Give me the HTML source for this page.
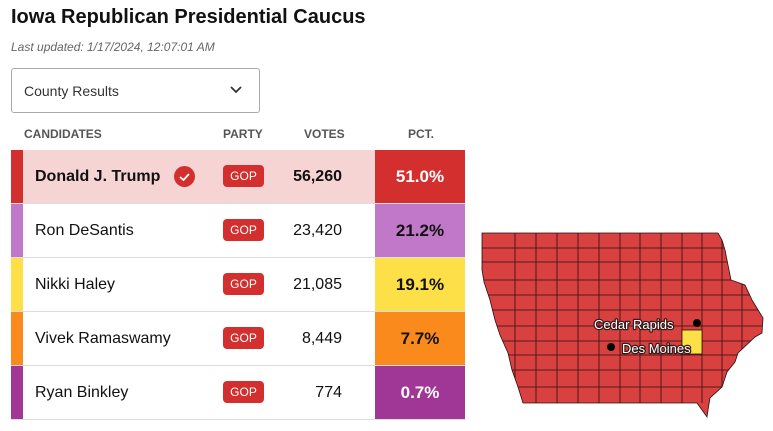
<!DOCTYPE html>
<html><head><style>
body{margin:0;width:773px;height:431px;background:#fff;font-family:"Liberation Sans",Arial,sans-serif;position:relative;overflow:hidden}
.a{position:absolute}
.row{position:absolute;left:11px;width:454px;height:53px;border-bottom:1px solid #ddd}
.bar{position:absolute;left:0;top:0;width:12px;height:100%}
.nm{position:absolute;left:24px;top:0;line-height:53px;font-size:16px;color:#111}
.gop{position:absolute;left:212px;top:15px;width:41px;height:22px;background:#d32f2f;color:#fff;border-radius:4px;font-size:12px;text-align:center;line-height:22px}
.vt{position:absolute;right:123px;top:0;line-height:53px;font-size:16px;color:#111}
.pc{position:absolute;left:364px;top:0;width:90px;height:100%;line-height:53px;text-align:center;font-size:17px;font-weight:bold}
.hd{position:absolute;top:127px;font-size:12px;color:#555;font-weight:bold}
</style></head><body>
<div class="a" style="left:11px;top:6px;font-size:20px;font-weight:bold;color:#111">Iowa Republican Presidential Caucus</div>
<div class="a" style="left:11px;top:40px;font-size:12px;font-style:italic;color:#666">Last updated: 1/17/2024, 12:07:01 AM</div>
<div class="a" style="left:11px;top:68px;width:247px;height:43px;border:1px solid #aaa;border-radius:3px"></div>
<div class="a" style="left:24px;top:83px;font-size:14px;color:#333">County Results</div>
<svg class="a" style="left:229px;top:85px" width="14" height="10"><polyline points="2,2 7,7 12,2" fill="none" stroke="#333" stroke-width="1.8"/></svg>
<div class="hd" style="left:24px">CANDIDATES</div>
<div class="hd" style="left:223px">PARTY</div>
<div class="hd" style="left:304px">VOTES</div>
<div class="hd" style="left:408px">PCT.</div>

<div class="row" style="top:150px;background:#f6d4d4">
<div class="bar" style="background:#d32f2f"></div>
<div class="nm" style="font-weight:bold">Donald J. Trump</div>
<div class="a" style="left:163px;top:16px;width:21px;height:21px;border-radius:50%;background:#d32f2f"><svg width="21" height="21"><polyline points="6,11 9.5,14 15,8" fill="none" stroke="#fff" stroke-width="1.8"/></svg></div>
<div class="gop">GOP</div>
<div class="vt" style="font-weight:bold">56,260</div>
<div class="pc" style="background:#d32f2f;color:#fff">51.0%</div>
</div>
<div class="row" style="top:204px">
<div class="bar" style="background:#c278c8"></div><div class="nm">Ron DeSantis</div><div class="gop">GOP</div><div class="vt">23,420</div>
<div class="pc" style="background:#c278c8;color:#111">21.2%</div></div>
<div class="row" style="top:258px">
<div class="bar" style="background:#fde047"></div><div class="nm">Nikki Haley</div><div class="gop">GOP</div><div class="vt">21,085</div>
<div class="pc" style="background:#fde047;color:#111">19.1%</div></div>
<div class="row" style="top:312px">
<div class="bar" style="background:#fb8a1d"></div><div class="nm">Vivek Ramaswamy</div><div class="gop">GOP</div><div class="vt">8,449</div>
<div class="pc" style="background:#fb8a1d;color:#111">7.7%</div></div>
<div class="row" style="top:366px">
<div class="bar" style="background:#a03696"></div><div class="nm">Ryan Binkley</div><div class="gop">GOP</div><div class="vt">774</div>
<div class="pc" style="background:#a03696;color:#fff">0.7%</div></div>

<svg class="a" style="left:0;top:0" width="773" height="431">
<defs><clipPath id="ia"><polygon points="482,233 718,233 722,240 725,250 731,280 745,285 752,300 763,318 762,333 755,337 738,353 735,362 727,372 722,387 710,398 708,410 707,417 697,403 523,403 518,387 512,370 508,353 500,335 495,320 490,300 484,282 482,270"/></clipPath></defs>
<polygon points="482,233 718,233 722,240 725,250 731,280 745,285 752,300 763,318 762,333 755,337 738,353 735,362 727,372 722,387 710,398 708,410 707,417 697,403 523,403 518,387 512,370 508,353 500,335 495,320 490,300 484,282 482,270" fill="#d94040"/>
<g clip-path="url(#ia)" stroke="#2a1010" stroke-width="0.8" fill="none">
<path d="M475,248H770M475,262H770M475,280H770M475,295H770M475,310H770M475,326H770M475,341H770M475,355H770M475,370H770M475,387H770"/>
<path d="M515,233V403M536,233V403M557,233V403M578,233V403M599,233V403M620,233V403M640,233V403M661,233V403M682,233V403M702,233V403M722,233V403M742,233V403"/>
</g>
<rect x="682" y="330" width="20" height="24" fill="#fde047" stroke="#2a1010" stroke-width="0.8"/>
<polygon points="482,233 718,233 722,240 725,250 731,280 745,285 752,300 763,318 762,333 755,337 738,353 735,362 727,372 722,387 710,398 708,410 707,417 697,403 523,403 518,387 512,370 508,353 500,335 495,320 490,300 484,282 482,270" fill="none" stroke="#2a1010" stroke-width="0.8"/>
<circle cx="697" cy="323" r="4" fill="#000"/>
<circle cx="611" cy="347" r="4" fill="#000"/>
<g font-size="13" fill="#fff" font-family="Liberation Sans,sans-serif" stroke="#3a1a1a" stroke-width="2.5" paint-order="stroke" stroke-linejoin="round">
<text x="594" y="329">Cedar Rapids</text>
<text x="622" y="353">Des Moines</text>
</g>
</svg>
</body></html>
